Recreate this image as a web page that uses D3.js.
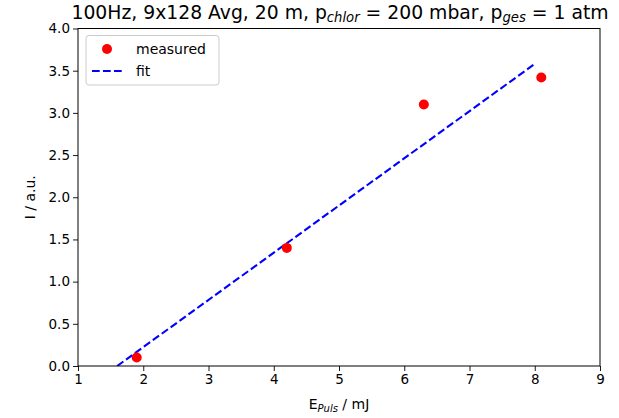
<!DOCTYPE html>
<html><head><meta charset="utf-8">
<script src="https://cdn.jsdelivr.net/npm/d3@7"></script>
<style>body{margin:0;background:#fff}text{font-family:"DejaVu Sans",sans-serif}</style>
</head><body><svg id="c" width="619" height="418"></svg>
<script>
const measuredX = [1.9, 4.2, 6.3, 8.1];
const measuredY = [0.1, 1.4, 3.1, 3.42];
const fitX = [1.6, 8.0];
const fitY = [0.0, 3.58];
const xTicks = [1,2,3,4,5,6,7,8,9];
const yTicks = [0,0.5,1,1.5,2,2.5,3,3.5,4];

const svg = d3.select("#c");
const L=78, R=600, T=28.5, B=366;
const x = d3.scaleLinear().domain([1,9]).range([L,R]);
const y = d3.scaleLinear().domain([0,4]).range([B,T]);

svg.append("clipPath").attr("id","cp").append("rect")
  .attr("x",L).attr("y",T).attr("width",R-L).attr("height",B-T);

const g = svg.append("g").attr("clip-path","url(#cp)");
g.append("path").datum(fitX.map((d,i)=>[d,fitY[i]]))
  .attr("d", d3.line().x(d=>x(d[0])).y(d=>y(d[1])))
  .attr("fill","none").attr("stroke","#0000ff").attr("stroke-width",2.1)
  .attr("stroke-dasharray","7.7,3.3");
g.selectAll("circle").data(measuredX).enter().append("circle")
  .attr("cx",d=>x(d)).attr("cy",(d,i)=>y(measuredY[i])).attr("r",5).attr("fill","#ff0000");

const xa = svg.append("g").attr("transform",`translate(0,${B})`)
  .call(d3.axisBottom(x).tickValues(xTicks).tickFormat(d3.format("d")).tickSize(5).tickPadding(3));
const ya = svg.append("g").attr("transform",`translate(${L},0)`)
  .call(d3.axisLeft(y).tickValues(yTicks).tickFormat(d3.format(".1f")).tickSize(5).tickPadding(3));
[xa,ya].forEach(a=>{a.select(".domain").remove();
  a.selectAll("text").attr("font-size",13.5).attr("fill","#000").attr("font-family","DejaVu Sans");
  a.selectAll("line").attr("stroke","#000").attr("stroke-width",0.9);});
svg.append("rect").attr("x",L).attr("y",T).attr("width",R-L).attr("height",B-T)
  .attr("fill","none").attr("stroke","#000").attr("stroke-width",1);

// title
const t = svg.append("text").attr("x",340).attr("y",18.5).attr("text-anchor","middle").attr("font-size",18.8);
t.append("tspan").text("100Hz, 9x128 Avg, 20 m, p");
t.append("tspan").attr("font-style","italic").attr("font-size",13.2).attr("dy",3.6).text("chlor");
t.append("tspan").attr("dy",-3.6).text(" = 200 mbar, p");
t.append("tspan").attr("font-style","italic").attr("font-size",13.2).attr("dy",3.6).text("ges");
t.append("tspan").attr("dy",-3.6).text(" = 1 atm");

// axis labels
const xl = svg.append("text").attr("x",339).attr("y",409).attr("text-anchor","middle").attr("font-size",14);
xl.append("tspan").text("E");
xl.append("tspan").attr("font-style","italic").attr("font-size",10).attr("dy",2.7).text("Puls");
xl.append("tspan").attr("dy",-2.7).text(" / mJ");
svg.append("text").attr("transform",`translate(35,${(T+B)/2}) rotate(-90)`)
  .attr("text-anchor","middle").attr("font-size",14).text("I / a.u.");

// legend
const lg = svg.append("g");
lg.append("rect").attr("x",86).attr("y",35.5).attr("width",133).attr("height",49.5).attr("rx",3)
  .attr("fill","#fff").attr("fill-opacity",0.8).attr("stroke","#ccc").attr("stroke-width",1);
lg.append("circle").attr("cx",107).attr("cy",49).attr("r",5).attr("fill","#ff0000");
lg.append("line").attr("x1",92).attr("x2",123).attr("y1",71).attr("y2",71)
  .attr("stroke","#0000ff").attr("stroke-width",2.1).attr("stroke-dasharray","7.7,3.3");
lg.append("text").attr("x",136).attr("y",54).attr("font-size",14).text("measured");
lg.append("text").attr("x",136).attr("y",76).attr("font-size",14).text("fit");
</script></body></html>
